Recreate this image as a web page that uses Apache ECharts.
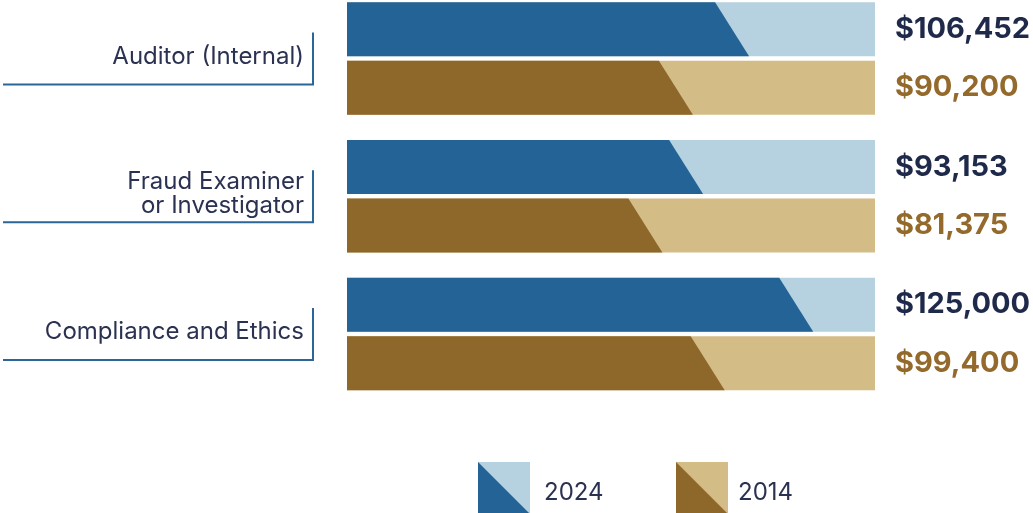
<!DOCTYPE html>
<html>
<head>
<meta charset="utf-8">
<script src="https://cdn.jsdelivr.net/npm/echarts@6/dist/echarts.min.js"></script>
<style>
  html, body { margin: 0; padding: 0; background: #ffffff; }
  #chart { width: 1033px; height: 513px; }
</style>
</head>
<body>
<div id="chart"></div>
<script>
// Median salaries by role, 2024 vs 2014
const categories = ['Auditor (Internal)', 'Fraud Examiner\nor Investigator', 'Compliance and Ethics'];
const salary2024 = [106452, 93153, 125000];
const salary2014 = [90200, 81375, 99400];
const seriesNames = ['2024', '2014'];

// Scale and drawing constants
const AXIS_MAX = 152700;
const BAR_H = 54;
const BAR_GAP = 4.5;
const SLANT = 34;
const FONT = 'Inter, Lato, sans-serif';
const TEXT_COLOR = '#2b3150';
const LINE_COLOR = '#2c6597';

const palette = {
  '2024': { dark: '#246395', light: '#b6d1e0', label: '#1f2a4b' },
  '2014': { dark: '#8e672b', light: '#d4bc87', label: '#93692c' }
};

function fmtMoney(v) {
  return '$' + v.toLocaleString('en-US');
}

// Bar with a slanted end: top edge stops at the value, bottom edge runs SLANT px further.
function barRenderer(slot, colors) {
  return function (params, api) {
    const value = api.value(0);
    const cat = api.value(1);
    const origin = api.coord([0, cat]);
    const end = api.coord([value, cat]);
    const full = api.coord([AXIS_MAX, cat]);
    const y = slot === 0 ? origin[1] - BAR_GAP / 2 - BAR_H : origin[1] + BAR_GAP / 2;
    return {
      type: 'group',
      children: [
        {
          type: 'rect',
          shape: { x: origin[0], y: y, width: full[0] - origin[0], height: BAR_H },
          style: { fill: colors.light }
        },
        {
          type: 'polygon',
          shape: {
            points: [
              [origin[0], y],
              [end[0], y],
              [end[0] + SLANT, y + BAR_H],
              [origin[0], y + BAR_H]
            ]
          },
          style: { fill: colors.dark }
        },
        {
          type: 'text',
          x: full[0] + 20,
          y: y + BAR_H / 2,
          style: {
            text: fmtMoney(value),
            fill: colors.label,
            font: 'bold 29px ' + FONT,
            align: 'left',
            verticalAlign: 'middle'
          }
        }
      ]
    };
  };
}

// Category label with a bracket line on its right and underneath
function labelRenderer(params, api) {
  const cat = api.value(0);
  const c = api.coord([0, cat]);
  const xr = c[0] - 34;
  const xl = c[0] - 344;
  return {
    type: 'group',
    children: [
      {
        type: 'polyline',
        shape: { points: [[xr, c[1] - 26], [xr, c[1] + 26], [xl, c[1] + 26]] },
        style: { stroke: LINE_COLOR, lineWidth: 2, fill: null }
      },
      {
        type: 'text',
        x: xr - 9,
        y: c[1] - 2,
        style: {
          text: categories[cat],
          fill: TEXT_COLOR,
          font: '24px ' + FONT,
          lineHeight: 24,
          align: 'right',
          verticalAlign: 'middle'
        }
      }
    ]
  };
}

function legendIcon(colors) {
  const svg = "<svg xmlns='http://www.w3.org/2000/svg' width='52' height='52' viewBox='0 0 52 52'>" +
    "<rect width='52' height='52' fill='" + colors.light + "'/>" +
    "<polygon points='0,0 52,52 0,52' fill='" + colors.dark + "'/></svg>";
  return 'image://data:image/svg+xml;charset=utf-8,' + encodeURIComponent(svg);
}

function legendFor(name, left, gapPad) {
  return {
    data: [{ name: name, icon: legendIcon(palette[name]) }],
    left: left,
    top: 462,
    padding: 0,
    itemWidth: 52,
    itemHeight: 52,
    selectedMode: false,
    formatter: '{t|{name}}',
    textStyle: {
      rich: {
        t: {
          fontFamily: FONT,
          fontSize: 24,
          color: TEXT_COLOR,
          padding: [10, 0, 0, gapPad]
        }
      }
    }
  };
}

const chart = echarts.init(document.getElementById('chart'));
chart.setOption({
  animation: false,
  // boundaryGap off: first and last category centres sit on the grid edges
  grid: { left: 347, width: 528, top: 58.5, height: 275.5 },
  xAxis: { type: 'value', min: 0, max: AXIS_MAX, show: false },
  yAxis: { type: 'category', data: categories, inverse: true, boundaryGap: false, show: false },
  legend: [legendFor('2024', 478, 9), legendFor('2014', 676, 5)],
  series: [
    {
      name: seriesNames[0],
      type: 'custom',
      renderItem: barRenderer(0, palette['2024']),
      encode: { x: 0, y: 1 },
      data: salary2024.map((v, i) => [v, i])
    },
    {
      name: seriesNames[1],
      type: 'custom',
      renderItem: barRenderer(1, palette['2014']),
      encode: { x: 0, y: 1 },
      data: salary2014.map((v, i) => [v, i])
    },
    {
      name: 'labels',
      type: 'custom',
      silent: true,
      renderItem: labelRenderer,
      encode: { y: 0 },
      data: categories.map((c, i) => [i])
    }
  ]
});
</script>
</body>
</html>
